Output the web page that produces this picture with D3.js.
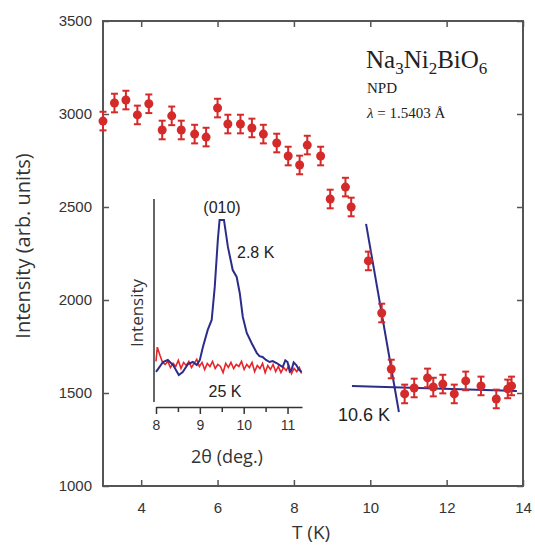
<!DOCTYPE html>
<html>
<head>
<meta charset="utf-8">
<script src="https://cdn.jsdelivr.net/npm/d3@7/dist/d3.min.js"></script>
<style>
  body { margin: 0; background: #fff; }
  svg { display: block; }
</style>
</head>
<body>
<svg width="535" height="547"></svg>
<script>
// main data: T (K), intensity, error
var temps = [3.0, 3.3, 3.6, 3.9, 4.2, 4.55, 4.8, 5.05, 5.4, 5.7, 6.0, 6.27, 6.6, 6.9, 7.2, 7.55, 7.85, 8.15, 8.35, 8.7,
             8.95, 9.35, 9.5, 9.95, 10.3, 10.55, 10.9, 11.15, 11.5, 11.65, 11.9, 12.2, 12.5, 12.9, 13.3, 13.6, 13.7];
var counts = [2962, 3059, 3075, 2995, 3055, 2914, 2990, 2914, 2892, 2876, 3032, 2946, 2946, 2925, 2892, 2844, 2774, 2726, 2833, 2774,
              2543, 2607, 2500, 2210, 1930, 1629, 1495, 1527, 1581, 1532, 1548, 1495, 1565, 1538, 1468, 1522, 1538];
var errs = [50, 50, 50, 50, 50, 50, 50, 50, 50, 50, 50, 50, 50, 50, 50, 50, 50, 50, 50, 50,
            50, 50, 50, 50, 50, 50, 50, 50, 50, 50, 50, 50, 50, 50, 50, 50, 50];

var xTicks = [4, 6, 8, 10, 12, 14];
var yTicks = [1000, 1500, 2000, 2500, 3000, 3500];

// linear fits around the transition
var fitSteep = [[9.89, 2409], [10.75, 1398]];
var fitFlat = [[9.52, 1538], [13.84, 1511]];

// inset: (010) peak, 2theta (deg) vs intensity (arb.)
var blue28K = [[8.0, 148], [8.05, 163], [8.16, 197], [8.27, 207], [8.39, 182], [8.52, 133], [8.61, 148], [8.73, 187],
               [8.84, 197], [8.93, 182], [9.0, 207], [9.07, 271], [9.18, 355], [9.27, 404], [9.34, 567], [9.41, 798],
               [9.45, 897], [9.55, 897], [9.64, 764], [9.75, 650], [9.84, 616], [9.91, 537], [9.98, 419], [10.07, 340],
               [10.18, 291], [10.30, 241], [10.36, 226], [10.43, 222], [10.51, 207], [10.59, 197], [10.66, 202], [10.75, 192],
               [10.82, 182], [10.89, 172], [10.95, 205], [11.0, 197], [11.05, 150], [11.09, 158], [11.14, 195], [11.20, 182],
               [11.26, 160], [11.32, 148]];
var red25K = [[8.0, 200], [8.03, 270], [8.09, 230], [8.15, 195], [8.21, 185], [8.27, 200], [8.33, 170], [8.39, 190],
              [8.45, 175], [8.51, 205], [8.57, 165], [8.63, 195], [8.69, 180], [8.75, 200], [8.81, 170], [8.87, 190],
              [8.93, 210], [8.99, 175], [9.05, 195], [9.11, 160], [9.17, 190], [9.23, 175], [9.29, 200], [9.35, 165],
              [9.41, 185], [9.47, 175], [9.53, 145], [9.59, 190], [9.65, 170], [9.71, 195], [9.77, 165], [9.83, 185],
              [9.89, 175], [9.95, 200], [10.01, 160], [10.07, 185], [10.13, 170], [10.19, 195], [10.25, 150], [10.31, 180],
              [10.37, 165], [10.43, 190], [10.49, 145], [10.55, 180], [10.61, 160], [10.67, 185], [10.73, 150], [10.79, 175],
              [10.85, 145], [10.91, 170], [10.97, 155], [11.03, 180], [11.09, 140], [11.15, 165], [11.21, 150], [11.27, 170],
              [11.32, 140]];
var insetMajor = [8, 9, 10, 11];
var insetMinor = [8.5, 9.5, 10.5];

var svg = d3.select("svg"),
    pLeft = 103, pRight = 523, pTop = 21, pBottom = 486;

var red = "#d42a2a", navy = "#2c2c8a", axisCol = "#555",
    sans = "'Liberation Sans', Arial, sans-serif";

var x = d3.scaleLinear().domain([3, 14]).range([pLeft, pRight]);
var y = d3.scaleLinear().domain([1000, 3500]).range([pBottom, pTop]);

// ticks inward on all four sides
function styleAxis(g) {
    g.select(".domain").remove();
    g.selectAll(".tick line").attr("stroke", axisCol).attr("stroke-width", 1.5);
    g.selectAll(".tick text").attr("fill", "#333").style("font-family", sans).style("font-size", "15px");
}

svg.append("g")
    .attr("transform", "translate(0," + pBottom + ")")
    .call(d3.axisBottom(x).tickValues(xTicks).tickSizeInner(-6).tickSizeOuter(0).tickPadding(16).tickFormat(d3.format("d")))
    .call(styleAxis);
svg.append("g")
    .attr("transform", "translate(0," + pTop + ")")
    .call(d3.axisTop(x).tickValues(xTicks).tickSizeInner(-6).tickSizeOuter(0).tickFormat(""))
    .call(styleAxis);
svg.append("g")
    .attr("transform", "translate(" + pLeft + ",0)")
    .call(d3.axisLeft(y).tickValues(yTicks).tickSizeInner(-6).tickSizeOuter(0).tickPadding(11).tickFormat(d3.format("d")))
    .call(styleAxis);
svg.append("g")
    .attr("transform", "translate(" + pRight + ",0)")
    .call(d3.axisRight(y).tickValues(yTicks).tickSizeInner(-6).tickSizeOuter(0).tickFormat(""))
    .call(styleAxis);

svg.append("rect")
    .attr("x", pLeft).attr("y", pTop)
    .attr("width", pRight - pLeft).attr("height", pBottom - pTop)
    .attr("fill", "none").attr("stroke", axisCol).attr("stroke-width", 2);

svg.append("text")
    .attr("x", (pLeft + pRight) / 2 - 2).attr("y", 539)
    .attr("text-anchor", "middle")
    .style("font-family", "'Open Sans', sans-serif").style("font-size", "19px").attr("fill", "#333")
    .text("T (K)");
svg.append("text")
    .attr("transform", "translate(30,246) rotate(-90)")
    .attr("text-anchor", "middle")
    .style("font-family", "'Open Sans', sans-serif").style("font-size", "20px").attr("fill", "#333")
    .text("Intensity (arb. units)");

// ---- inset ----
var ix = d3.scaleLinear().domain([8, 11.33]).range([156, 302]);
var iy = d3.scaleLinear().domain([0, 1000]).range([402, 199]);
var inset = svg.append("g");

inset.append("line")
    .attr("x1", 154).attr("x2", 154).attr("y1", iy(1000)).attr("y2", iy(0))
    .attr("stroke", "#333").attr("stroke-width", 1.5);

inset.append("g")
    .attr("transform", "translate(0,407)")
    .call(d3.axisBottom(ix).tickValues(insetMajor).tickSizeInner(7).tickSizeOuter(0).tickPadding(6).tickFormat(d3.format("d")))
    .call(function(g) {
        g.select(".domain").attr("stroke", "#333").attr("stroke-width", 1.5);
        g.selectAll(".tick line").attr("stroke", "#333").attr("stroke-width", 1.5);
        g.selectAll(".tick text").attr("fill", "#333").style("font-family", sans).style("font-size", "14px");
    });
inset.append("g")
    .attr("transform", "translate(0,407)")
    .call(d3.axisBottom(ix).tickValues(insetMinor).tickSizeInner(5).tickSizeOuter(0).tickFormat(""))
    .call(function(g) {
        g.select(".domain").remove();
        g.selectAll(".tick line").attr("stroke", "#333").attr("stroke-width", 1.5);
    });

var iline = d3.line().x(function(d) { return ix(d[0]); }).y(function(d) { return iy(d[1]); });
inset.append("path").datum(red25K)
    .attr("fill", "none").attr("stroke", "#e8262a").attr("stroke-width", 1.6).attr("d", iline);
inset.append("path").datum(blue28K)
    .attr("fill", "none").attr("stroke", navy).attr("stroke-width", 2).attr("d", iline);

var insetText = [
    {t: "(010)", x: 222, y: 213, a: "middle"},
    {t: "2.8 K", x: 237, y: 258, a: "start"},
    {t: "25 K", x: 225, y: 397, a: "middle"}
];
inset.selectAll("text.lab").data(insetText).enter().append("text")
    .attr("class", "lab")
    .attr("x", function(d) { return d.x; }).attr("y", function(d) { return d.y; })
    .attr("text-anchor", function(d) { return d.a; })
    .style("font-family", sans).style("font-size", "16px").attr("fill", "#222")
    .text(function(d) { return d.t; });

inset.append("text")
    .attr("transform", "translate(143,313) rotate(-90)")
    .attr("text-anchor", "middle")
    .style("font-family", "'Open Sans', sans-serif").style("font-size", "17px").attr("fill", "#333")
    .text("Intensity");
inset.append("text")
    .attr("x", 227).attr("y", 463)
    .attr("text-anchor", "middle")
    .style("font-family", "'Open Sans', sans-serif").style("font-size", "18px").attr("fill", "#333")
    .text("2θ (deg.)");

// ---- fit lines ----
var fline = d3.line().x(function(d) { return x(d[0]); }).y(function(d) { return y(d[1]); });
[fitSteep, fitFlat].forEach(function(f) {
    svg.append("path").datum(f)
        .attr("fill", "none").attr("stroke", navy).attr("stroke-width", 2).attr("d", fline);
});
svg.append("text")
    .attr("x", 338).attr("y", 421)
    .style("font-family", sans).style("font-size", "18px").attr("fill", "#222")
    .text("10.6 K");

// ---- data points with error bars ----
var pts = temps.map(function(t, i) { return {t: t, c: counts[i], e: errs[i]}; });
var pg = svg.append("g").selectAll("g").data(pts).enter().append("g");
pg.append("line")
    .attr("x1", function(d) { return x(d.t); }).attr("x2", function(d) { return x(d.t); })
    .attr("y1", function(d) { return y(d.c - d.e); }).attr("y2", function(d) { return y(d.c + d.e); })
    .attr("stroke", red).attr("stroke-width", 2);
[-1, 1].forEach(function(s) {
    pg.append("line")
        .attr("x1", function(d) { return x(d.t) - 3.5; }).attr("x2", function(d) { return x(d.t) + 3.5; })
        .attr("y1", function(d) { return y(d.c + s * d.e); }).attr("y2", function(d) { return y(d.c + s * d.e); })
        .attr("stroke", red).attr("stroke-width", 2);
});
pg.append("circle")
    .attr("cx", function(d) { return x(d.t); }).attr("cy", function(d) { return y(d.c); })
    .attr("r", 4.5).attr("fill", red);

// ---- annotation ----
var serif = "'Liberation Serif', 'Times New Roman', serif";
var formula = svg.append("text").attr("x", 366).attr("y", 68)
    .style("font-family", serif).style("font-size", "25px").attr("fill", "#222");
[["Na", 0], ["3", 1], ["Ni", 0], ["2", 1], ["BiO", 0], ["6", 1]].forEach(function(p) {
    formula.append("tspan")
        .attr("y", p[1] ? 74 : 68)
        .style("font-size", p[1] ? "17px" : "25px")
        .text(p[0]);
});
svg.append("text").attr("x", 367).attr("y", 93)
    .style("font-family", serif).style("font-size", "15px").attr("fill", "#222")
    .text("NPD");
var lam = svg.append("text").attr("x", 367).attr("y", 118)
    .style("font-family", serif).style("font-size", "15px").attr("fill", "#222");
lam.append("tspan").style("font-style", "italic").text("λ");
lam.append("tspan").text(" = 1.5403  Å");
</script>
</body>
</html>
